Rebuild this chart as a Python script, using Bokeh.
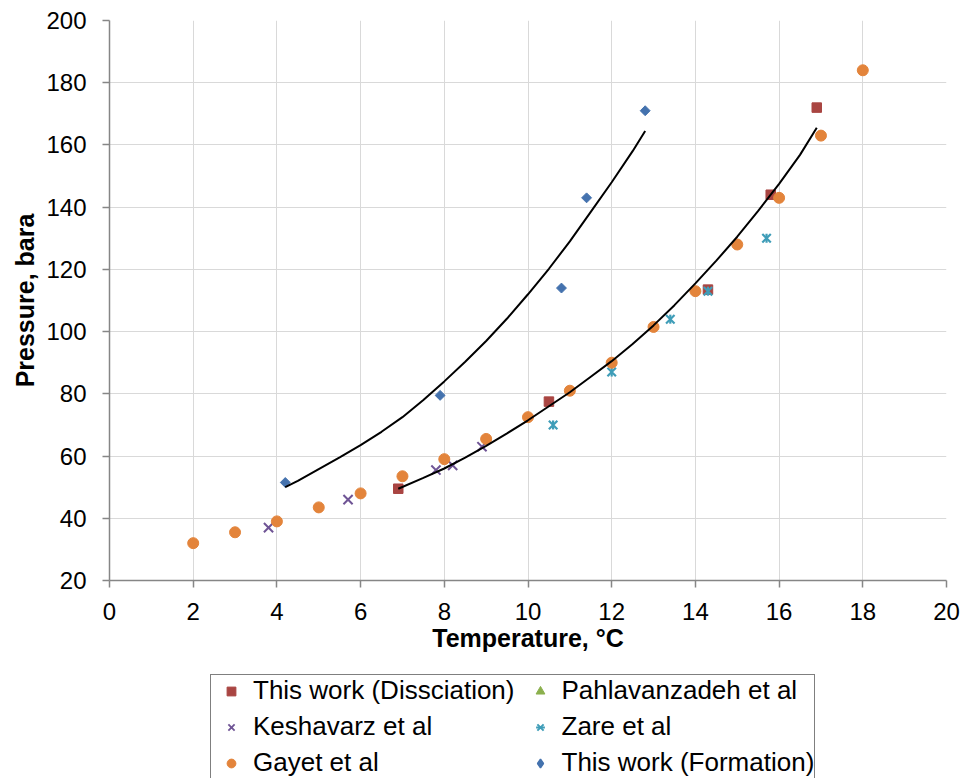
import math
from bokeh.plotting import figure
from bokeh.layouts import column
from bokeh.models import Range1d, FixedTicker, Legend, LegendItem
from bokeh.embed import file_html
from bokeh.resources import INLINE

# ---- data ----
diss_T = [6.9, 10.5, 14.3, 15.8, 16.9]
diss_P = [49.5, 77.5, 113.5, 144.0, 172.0]

pahl_T = []
pahl_P = []

kesh_T = [3.8, 5.7, 7.8, 8.2, 8.9]
kesh_P = [37.0, 46.0, 55.5, 57.0, 63.0]

zare_T = [10.6, 12.0, 13.4, 14.3, 15.7]
zare_P = [70.0, 87.0, 104.0, 113.0, 130.0]

gayet_T = [2, 3, 4, 5, 6, 7, 8, 9, 10, 11, 12, 13, 14, 15, 16, 17, 18]
gayet_P = [32, 35.5, 39, 43.5, 48, 53.5, 59, 65.5, 72.5, 81, 90, 101.5, 113, 128, 143, 163, 184]

form_T = [4.2, 7.9, 10.8, 11.4, 12.8]
form_P = [51.5, 79.5, 114.0, 143.0, 171.0]

# model curves
curve_form_T = [4.2, 4.5, 5, 5.5, 6, 6.5, 7, 7.5, 8, 8.5, 9, 9.5, 10, 10.5, 11, 11.5, 12, 12.5, 12.8]
curve_form_P = [50.0, 52.0, 55.8, 59.6, 63.5, 67.8, 72.5, 78.0, 84.0, 90.3, 97.0, 104.2, 112.0,
                120.2, 129.0, 138.5, 148.0, 158.0, 164.5]

curve_diss_T = [6.9, 7.5, 8, 8.5, 9, 9.5, 10, 10.5, 11, 11.5, 12, 12.5, 13, 13.5, 14, 14.5, 15,
                15.5, 16, 16.5, 16.9]
curve_diss_P = [49.5, 53.0, 56.0, 59.5, 63.3, 67.3, 71.5, 76.0, 80.5, 85.5, 90.5, 96.0, 102.0,
                108.5, 115.5, 122.8, 130.5, 138.8, 147.5, 156.8, 165.5]

x_ticks = [0, 2, 4, 6, 8, 10, 12, 14, 16, 18, 20]
y_ticks = [20, 40, 60, 80, 100, 120, 140, 160, 180, 200]

legend_labels = ["This work (Dissciation)", "Pahlavanzadeh et al", "Keshavarz et al",
                 "Zare et al", "Gayet et al", "This work (Formation)"]

FONT = "Liberation Sans"
RED = "#A94542"
GREEN = "#8BB04D"
PURPLE = "#6F5495"
TEAL = "#3F9DB8"
ORANGE = "#E3843B"
BLUE = "#4472AE"

# ---------------- main chart ----------------
p = figure(frame_width=837, frame_height=560, output_backend="svg", toolbar_location=None,
           x_range=Range1d(0, 20), y_range=Range1d(20, 200),
           min_border_left=109, min_border_right=19, min_border_top=20,
           min_border_bottom=90)
p.outline_line_color = None
p.background_fill_color = "white"
p.border_fill_color = "white"

for ax in (p.xaxis[0], p.yaxis[0]):
    ax.axis_line_color = "#868686"
    ax.axis_line_width = 1.5
    ax.major_tick_line_color = "#868686"
    ax.major_tick_line_width = 1.5
    ax.major_tick_out = 7
    ax.major_tick_in = 0
    ax.minor_tick_line_color = None
    ax.major_label_text_font = FONT
    ax.major_label_text_font_size = "24px"
    ax.major_label_text_color = "black"
    ax.axis_label_text_font = FONT
    ax.axis_label_text_font_size = "25px"
    ax.axis_label_text_font_style = "bold"
    ax.axis_label_text_color = "black"

p.xaxis[0].ticker = FixedTicker(ticks=x_ticks)
p.yaxis[0].ticker = FixedTicker(ticks=y_ticks)
p.xaxis[0].axis_label = "Temperature, °C"
p.yaxis[0].axis_label = "Pressure, bara"
p.xaxis[0].major_label_standoff = 15
p.yaxis[0].major_label_standoff = 16
p.xaxis[0].axis_label_standoff = 1
p.yaxis[0].axis_label_standoff = 4

p.xgrid[0].ticker = FixedTicker(ticks=x_ticks)
p.ygrid[0].ticker = FixedTicker(ticks=y_ticks)
p.xgrid.grid_line_color = "#d9d9d9"
p.ygrid.grid_line_color = "#d9d9d9"
p.xgrid.grid_line_width = 1
p.ygrid.grid_line_width = 1

p.scatter(diss_T, diss_P, marker="square", size=9.5, fill_color=RED, line_color=RED)
p.scatter(pahl_T, pahl_P, marker="triangle", size=9, fill_color=GREEN, line_color=GREEN)
p.scatter(kesh_T, kesh_P, marker="x", size=13, line_color=PURPLE, line_width=2)
p.scatter(zare_T, zare_P, marker="x", size=12, line_color=TEAL, line_width=2.2)
p.scatter(zare_T, zare_P, marker="dash", size=9, angle=math.pi / 2, line_color=TEAL, line_width=2.2)
p.scatter(gayet_T, gayet_P, marker="circle", size=11, fill_color=ORANGE, line_color=ORANGE)
p.scatter(form_T, form_P, marker="square", size=7, angle=math.pi / 4, fill_color=BLUE, line_color=BLUE)

p.line(curve_form_T, curve_form_P, line_color="black", line_width=2)
p.line(curve_diss_T, curve_diss_P, line_color="black", line_width=2)

# ---------------- legend strip ----------------
lf = figure(width=965, height=110, output_backend="svg", toolbar_location=None,
            x_range=Range1d(0, 1), y_range=Range1d(0, 1),
            x_axis_location=None, y_axis_location=None,
            min_border=0)
lf.outline_line_color = None
lf.xgrid.visible = False
lf.ygrid.visible = False
lf.background_fill_color = "white"
lf.border_fill_color = "white"

# legend swatches only: one off-range point each (clipped away, used for the key glyph)
sx = [-5]
sy = [-5]
l_diss = lf.scatter(sx, sy, marker="square", size=9, fill_color=RED, line_color=RED)
l_pahl = lf.scatter(sx, sy, marker="triangle", size=9, fill_color=GREEN, line_color=GREEN)
l_kesh = lf.scatter(sx, sy, marker="x", size=9, line_color=PURPLE, line_width=1.8)
l_zare1 = lf.scatter(sx, sy, marker="x", size=9, line_color=TEAL, line_width=2)
l_zare2 = lf.scatter(sx, sy, marker="dash", size=9, angle=math.pi / 2, line_color=TEAL, line_width=2)
l_gayet = lf.scatter(sx, sy, marker="circle", size=9, fill_color=ORANGE, line_color=ORANGE)
l_form = lf.scatter(sx, sy, marker="diamond", size=9, fill_color=BLUE, line_color=BLUE, line_width=1.5)

legend = Legend(items=[
    LegendItem(label=legend_labels[0], renderers=[l_diss]),
    LegendItem(label=legend_labels[1], renderers=[l_pahl]),
    LegendItem(label=legend_labels[2], renderers=[l_kesh]),
    LegendItem(label=legend_labels[3], renderers=[l_zare1, l_zare2]),
    LegendItem(label=legend_labels[4], renderers=[l_gayet]),
    LegendItem(label=legend_labels[5], renderers=[l_form]),
], orientation="horizontal", ncols=2, location=(101, 1))
legend.label_text_font = FONT
legend.label_text_font_size = "26px"
legend.label_text_color = "black"
legend.glyph_width = 40
legend.glyph_height = 22
legend.label_standoff = 2
legend.padding = 0
legend.spacing = 5
legend.margin = 0
legend.border_line_color = "black"
legend.border_line_width = 1
legend.background_fill_color = "white"
legend.background_fill_alpha = 1
lf.add_layout(legend, "center")

layout = column(p, lf, spacing=0)
open("out.html", "w").write(file_html(layout, INLINE))
